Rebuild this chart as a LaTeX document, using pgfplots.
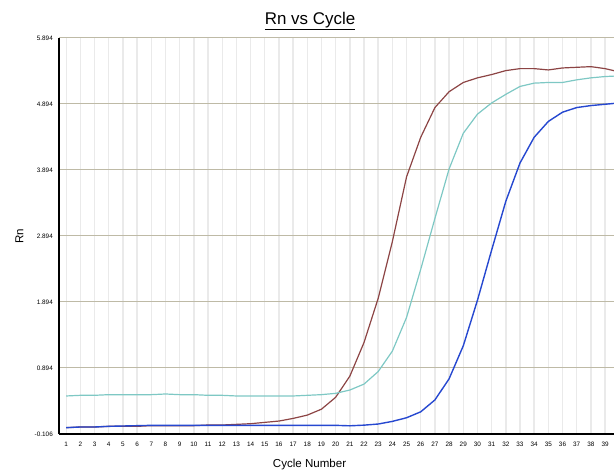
\documentclass[border=0pt]{standalone}
\usepackage{pgfplots}
\pgfplotsset{compat=1.18}
\usepackage{fontspec}
\setmainfont{Liberation Sans}
\usetikzlibrary{calc}
\definecolor{cbrown}{RGB}{140,68,68}
\definecolor{ccyan}{RGB}{126,200,196}
\definecolor{cblue}{RGB}{38,72,208}
\definecolor{hgrid}{RGB}{190,186,166}
\definecolor{vgrid}{RGB}{234,234,234}
\begin{document}
\begin{tikzpicture}
\begin{axis}[
  scale only axis, width=555bp, height=396bp,
  xmin=0.49, xmax=39.63, ymin=-0.106, ymax=5.894,
  axis x line=bottom, axis y line=left,
  axis line style={-, line width=1.6bp, black},
  xtick={1,...,39},
  ytick={-0.106,0.894,1.894,2.894,3.894,4.894,5.894},
  yticklabels={-0.106,0.894,1.894,2.894,3.894,4.894,5.894},
  major tick length=0pt,
  xmajorgrids, ymajorgrids,
  x grid style={vgrid, line width=1.4bp},
  y grid style={hgrid, line width=1bp},
  /pgf/number format/assume math mode=true,
  ticklabel style={font=\fontsize{6.4}{7}\selectfont, inner sep=0pt},
  yticklabel style={xshift=-6bp},
  xticklabel style={yshift=-7.5bp},
  title={\underline{Rn vs Cycle}},
  title style={at={(axis description cs:0.4523,1)}, anchor=base, yshift=7.3bp, inner sep=0pt, font=\fontsize{17}{20}\selectfont},
  xlabel={Cycle Number},
  xlabel style={at={(axis description cs:0.4514,0)}, anchor=base, yshift=-33.8bp, inner sep=0pt, font=\fontsize{11.6}{13}\selectfont},
  ylabel={Rn},
  ylabel style={at={(axis description cs:-0.064,0.5)}, anchor=base, inner sep=0pt, font=\fontsize{11.6}{13}\selectfont},
]
\addplot[cbrown, line width=1.2bp] coordinates {
(1,-0.01)(2,0.00)(3,0.00)(4,0.01)(5,0.01)(6,0.01)(7,0.02)(8,0.02)(9,0.02)(10,0.02)
(11,0.03)(12,0.03)(13,0.04)(14,0.05)(15,0.07)(16,0.09)(17,0.13)(18,0.18)(19,0.27)(20,0.45)
(21,0.77)(22,1.28)(23,1.95)(24,2.81)(25,3.79)(26,4.39)(27,4.84)(28,5.08)(29,5.22)(30,5.29)
(31,5.34)(32,5.40)(33,5.43)(34,5.43)(35,5.41)(36,5.44)(37,5.45)(38,5.46)(39,5.43)(40,5.38)};
\addplot[ccyan, line width=1.2bp] coordinates {
(1,0.47)(2,0.48)(3,0.48)(4,0.49)(5,0.49)(6,0.49)(7,0.49)(8,0.50)(9,0.49)(10,0.49)
(11,0.48)(12,0.48)(13,0.47)(14,0.47)(15,0.47)(16,0.47)(17,0.47)(18,0.48)(19,0.49)(20,0.51)
(21,0.56)(22,0.65)(23,0.84)(24,1.15)(25,1.66)(26,2.39)(27,3.16)(28,3.91)(29,4.45)(30,4.74)
(31,4.91)(32,5.04)(33,5.16)(34,5.21)(35,5.22)(36,5.22)(37,5.26)(38,5.29)(39,5.31)(40,5.32)};
\addplot[cblue, line width=1.4bp] coordinates {
(1,-0.01)(2,0.00)(3,0.00)(4,0.01)(5,0.015)(6,0.02)(7,0.025)(8,0.025)(9,0.025)(10,0.025)
(11,0.025)(12,0.025)(13,0.025)(14,0.025)(15,0.025)(16,0.025)(17,0.025)(18,0.025)(19,0.025)(20,0.025)
(21,0.018)(22,0.028)(23,0.045)(24,0.085)(25,0.14)(26,0.23)(27,0.41)(28,0.73)(29,1.23)(30,1.92)
(31,2.68)(32,3.42)(33,4.00)(34,4.39)(35,4.63)(36,4.77)(37,4.84)(38,4.87)(39,4.89)(40,4.91)};
\coordinate (nw) at (rel axis cs:0,1);
\coordinate (se) at (rel axis cs:1,0);
\end{axis}
\pgfresetboundingbox
\path[use as bounding box] ($(nw)+(-59bp,38bp)$) rectangle ($(se)+(0bp,-37bp)$);
\end{tikzpicture}
\end{document}
